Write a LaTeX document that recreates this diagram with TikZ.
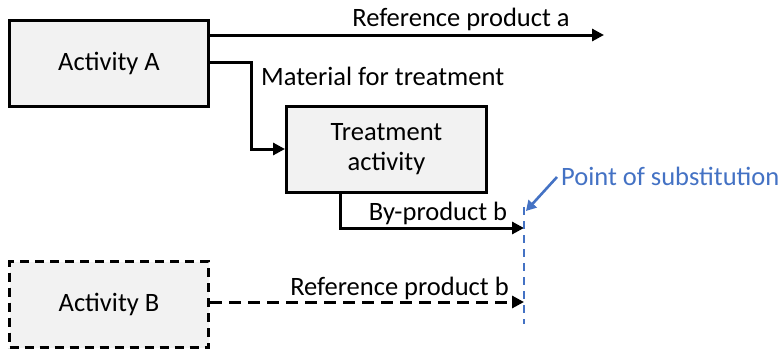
\documentclass[tikz,border=0pt]{standalone}
\usepackage{fontspec}
\setmainfont{Carlito}
\usetikzlibrary{arrows.meta}
\definecolor{accent}{RGB}{68,114,196}
\definecolor{boxfill}{RGB}{242,242,242}
\begin{document}
\begin{tikzpicture}[x=1pt,y=-1pt,
  font=\fontsize{26.5}{30}\selectfont,
  activity/.style={draw=black,fill=boxfill,line width=3pt,inner sep=0pt,
    minimum width=199pt,minimum height=86pt,align=center},
  flow/.style={line width=3pt,-{Triangle[length=12pt,width=12pt]}},
  lbl/.style={inner sep=0pt,anchor=base}]
\useasboundingbox (0,0) rectangle (779,351);

% activities
\node[activity] (A) at (109,63.5) {Activity A};
\node[activity,minimum width=200pt] (T) at (386.5,149) {Treatment\\activity};
\node[activity,dashed,dash pattern=on 9pt off 6pt] (B) at (109,304.5) {Activity B};

% end points of flows
\coordinate (ra) at (604,35);
\coordinate (sub) at (524,228);
\coordinate (subB) at (524,302);
\coordinate (subTop) at (524,207);
\coordinate (subBot) at (524,324);

% reference product a
\draw[flow] (A.east |- ra) -- (ra);
\node[lbl] (raL) at (461,26) {Reference product a};

% material for treatment
\draw[flow] (A.east |- 0,62) -| (251,100) |- (T.west);
\node[lbl,anchor=base west] (mtL) at (261,85) {Material for treatment};

% by-product b
\draw[flow] (T.south -| 340,0) |- (sub);
\node[lbl] (bpL) at (438,220) {By-product b};

% reference product b
\draw[flow,dash pattern=on 12pt off 7pt] (B.east |- subB) -- (subB);
\node[lbl] (rbL) at (399.5,295) {Reference product b};

% point of substitution
\draw[accent,line width=2.4pt,dash pattern=on 8pt off 6pt] (subTop) -- (subBot);
\node[lbl,text=accent,anchor=base west] (posL) at (561,185) {Point of substitution};
\draw[accent,line width=2.6pt,-{Triangle[length=10pt,width=11pt]}] (557,177) -- (526,211);
\end{tikzpicture}
\end{document}
